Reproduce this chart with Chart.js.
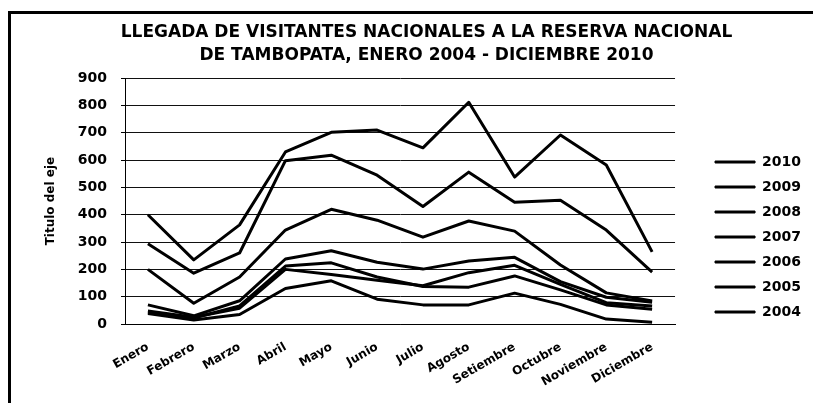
<!DOCTYPE html>
<html>
<head>
<meta charset="utf-8">
<script src="https://cdn.jsdelivr.net/npm/chart.js@4/dist/chart.umd.min.js"></script>
<style>
html, body { margin: 0; padding: 0; background: #fff; }
#wrap { position: relative; width: 813px; height: 403px; overflow: hidden; background: #fff; }
#frame { position: absolute; left: 8px; top: 11px; right: -6px; bottom: -6px;
         border-top: 3px solid #000; border-left: 3px solid #000; pointer-events: none; }
</style>
</head>
<body>
<div id="wrap">
  <canvas id="c" width="813" height="403"></canvas>
  <div id="frame"></div>
</div>
<script>
// ---- data ----
const months = ['Enero', 'Febrero', 'Marzo', 'Abril', 'Mayo', 'Junio', 'Julio',
                'Agosto', 'Setiembre', 'Octubre', 'Noviembre', 'Diciembre'];
const years = ['2010', '2009', '2008', '2007', '2006', '2005', '2004'];

const v2010 = [400, 235, 363, 630, 702, 710, 645, 812, 538, 692, 582, 264];
const v2009 = [294, 186, 260, 598, 618, 545, 430, 556, 446, 453, 344, 190];
const v2008 = [200, 76, 172, 344, 420, 380, 318, 377, 340, 216, 114, 84];
const v2007 = [70, 30, 85, 238, 268, 226, 201, 231, 244, 155, 98, 80];
const v2006 = [48, 25, 58, 200, 181, 160, 140, 188, 215, 145, 78, 66];
const v2005 = [42, 22, 66, 212, 224, 172, 137, 135, 176, 125, 70, 54];
const v2004 = [38, 15, 35, 130, 158, 91, 70, 70, 113, 72, 18, 6];

const yMin = 0, yMax = 900, yStep = 100;

const titleLines = ['LLEGADA DE VISITANTES NACIONALES A LA RESERVA NACIONAL',
                    'DE TAMBOPATA, ENERO 2004 - DICIEMBRE 2010'];
const yAxisTitle = 'Titulo del eje';

// ---- chart ----
const seriesValues = [v2010, v2009, v2008, v2007, v2006, v2005, v2004];
const FONT = "'DejaVu Sans', sans-serif";

const nudge = {
  id: 'nudge',
  afterLayout(chart) {
    const t = chart.titleBlock;
    if (t) { t.left += 15.5; t.right += 15.5; }
    const lg = chart.legend;
    if (lg) { lg.left += 29; lg.right += 29; lg.top += 28.5; lg.bottom += 28.5; }
  }
};

new Chart(document.getElementById('c').getContext('2d'), {
  type: 'line',
  data: {
    labels: months,
    datasets: years.map((y, i) => ({
      label: y,
      data: seriesValues[i],
      borderColor: '#000',
      backgroundColor: '#000',
      borderWidth: 3,
      pointRadius: 0,
      pointHoverRadius: 0,
      tension: 0,
      fill: false,
      borderJoinStyle: 'round'
    }))
  },
  options: {
    responsive: false,
    animation: false,
    layout: { padding: { left: 40, right: 31, top: 14, bottom: 0 } },
    plugins: {
      title: {
        display: true,
        text: titleLines,
        color: '#000',
        font: { family: FONT, size: 17, weight: 'bold', lineHeight: 1.3 },
        padding: { top: 8, bottom: 12 }
      },
      legend: {
        position: 'right',
        labels: {
          boxWidth: 40,
          boxHeight: 2,
          padding: 11,
          color: '#000',
          font: { family: FONT, size: 14, weight: 'bold' },
          generateLabels(chart) {
            return Chart.defaults.plugins.legend.labels.generateLabels(chart)
              .map(it => Object.assign(it, { lineWidth: 1, strokeStyle: '#000', fillStyle: '#000' }));
          }
        }
      },
      tooltip: { enabled: false }
    },
    scales: {
      x: {
        offset: true,
        grid: { display: false, drawTicks: false },
        border: { display: true, color: '#000', width: 1 },
        ticks: {
          color: '#000',
          font: { family: FONT, size: 12, weight: 'bold' },
          minRotation: 30, maxRotation: 30,
          padding: 16,
          autoSkip: false
        },
        afterFit(s) { s.height = 79; }
      },
      y: {
        min: yMin, max: yMax,
        ticks: { stepSize: yStep, color: '#000', padding: 14,
                 font: { family: FONT, size: 14, weight: 'bold' } },
        grid: { color: '#111', lineWidth: 1, tickLength: 4, drawTicks: true, tickColor: '#000' },
        border: { display: true, color: '#000', width: 1 },
        title: { display: true, text: yAxisTitle, color: '#000',
                 font: { family: FONT, size: 12, weight: 'bold' } },
        afterFit(s) { s.width = 85; }
      }
    }
  },
  plugins: [nudge]
});
</script>
</body>
</html>
